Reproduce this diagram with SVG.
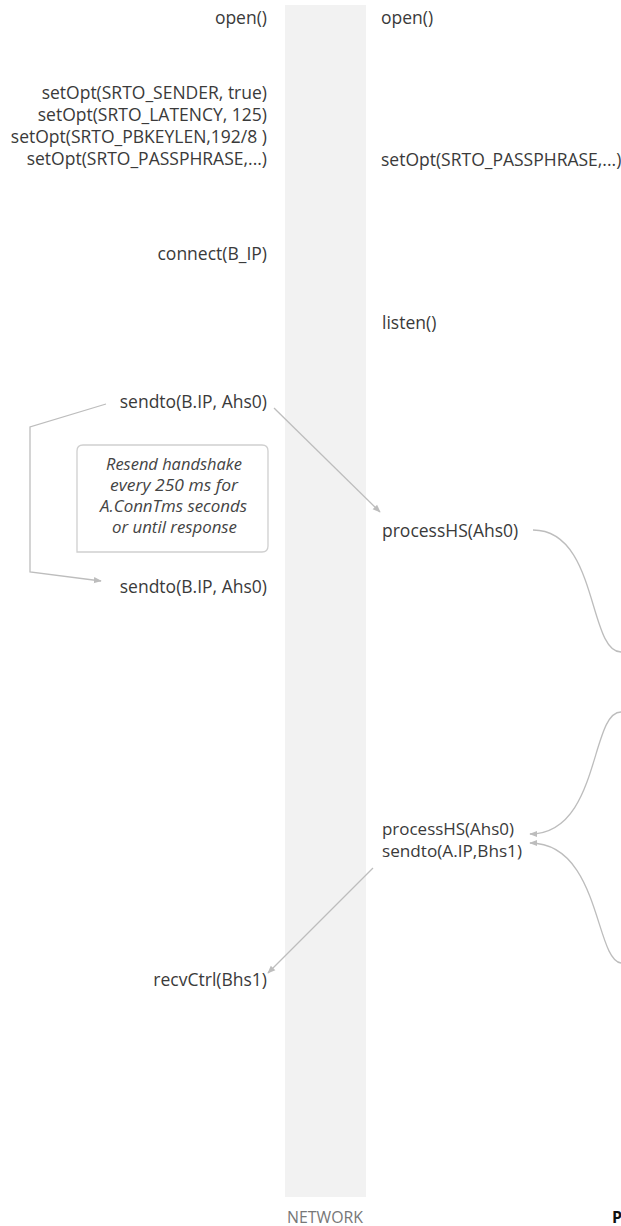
<svg xmlns="http://www.w3.org/2000/svg" width="621" height="1226" viewBox="0 0 621 1226">
<defs>
<style>
.t{font-family:"Open Sans","Noto Sans",sans-serif;font-size:17.5px;fill:#3a3a3a}
.r{text-anchor:end}
.i{font-style:italic;text-anchor:middle;fill:#444;font-size:15.6px}
.s{font-size:16px}
.c{fill:none;stroke:#bdbdbd;stroke-width:1.3}
.net{font-family:"Open Sans","Noto Sans",sans-serif;font-size:15.5px;fill:#777777;text-anchor:middle}
</style>
<marker id="ah" viewBox="0 0 10 10" refX="9" refY="5" markerWidth="8" markerHeight="8" markerUnits="userSpaceOnUse" orient="auto">
<path d="M0,1 L10,5 L0,9 Z" fill="#bdbdbd"/>
</marker>
</defs>
<rect width="621" height="1226" fill="#ffffff"/>
<g id="network">
<rect x="285" y="5" width="81" height="1192" fill="#f2f2f2"/>
<text class="net" x="325" y="1223" textLength="76" lengthAdjust="spacingAndGlyphs">NETWORK</text>
</g>
<g id="a-open"><text class="t r" x="267" y="24">open()</text></g>
<g id="a-setopt">
<text class="t r" x="267" y="99">setOpt(SRTO_SENDER, true)</text>
<text class="t r" x="267" y="121">setOpt(SRTO_LATENCY, 125)</text>
<text class="t r" x="267" y="143">setOpt(SRTO_PBKEYLEN,192/8 )</text>
<text class="t r" x="267" y="165">setOpt(SRTO_PASSPHRASE,...)</text>
</g>
<g id="a-connect"><text class="t r" x="267" y="260">connect(B_IP)</text></g>
<g id="a-sendto1"><text class="t r" x="267" y="408">sendto(B.IP, Ahs0)</text></g>
<g id="note">
<path d="M83,445 L262,445 Q268,445 268,451 L268,546 Q268,552 262,552 L77,552 L77,451 Q77,445 83,445 Z" fill="#ffffff" stroke="#cfcfcf" stroke-width="1.3"/>
<text class="t i" x="174" y="470" textLength="136" lengthAdjust="spacingAndGlyphs">Resend handshake</text>
<text class="t i" x="174" y="491" textLength="128" lengthAdjust="spacingAndGlyphs">every 250 ms for</text>
<text class="t i" x="173.5" y="512" textLength="147" lengthAdjust="spacingAndGlyphs">A.ConnTms seconds</text>
<text class="t i" x="174.5" y="533" textLength="125" lengthAdjust="spacingAndGlyphs">or until response</text>
</g>
<g id="a-sendto2"><text class="t r" x="267" y="593">sendto(B.IP, Ahs0)</text></g>
<g id="a-recv"><text class="t r" x="267" y="986">recvCtrl(Bhs1)</text></g>
<g id="b-open"><text class="t" x="381" y="24">open()</text></g>
<g id="b-setopt"><text class="t" x="381" y="166">setOpt(SRTO_PASSPHRASE,...)</text></g>
<g id="b-listen"><text class="t" x="382" y="329">listen()</text></g>
<g id="b-process1"><text class="t" x="382" y="537">processHS(Ahs0)</text></g>
<g id="b-process2"><text class="t s" x="382" y="835" textLength="132" lengthAdjust="spacingAndGlyphs">processHS(Ahs0)</text></g>
<g id="b-sendto"><text class="t s" x="382" y="857" textLength="140" lengthAdjust="spacingAndGlyphs">sendto(A.IP,Bhs1)</text></g>
<g id="peer"><text x="612" y="1223" font-family="'Open Sans','Noto Sans',sans-serif" font-size="16" font-weight="bold" fill="#111">P</text></g>
<g id="connectors">
<path class="c" d="M274,408 L380,512" marker-end="url(#ah)"/>
<path class="c" d="M106,404 L30,427 L30,572 L101,581" marker-end="url(#ah)"/>
<path class="c" d="M533,530 C598,530 588,652 621,652"/>
<path class="c" d="M621,712 C590,712 600,834 530,834" marker-end="url(#ah)"/>
<path class="c" d="M621,963 C595,960 600,843 530,843" marker-end="url(#ah)"/>
<path class="c" d="M373,868 L268,973" marker-end="url(#ah)"/>
</g>
</svg>
